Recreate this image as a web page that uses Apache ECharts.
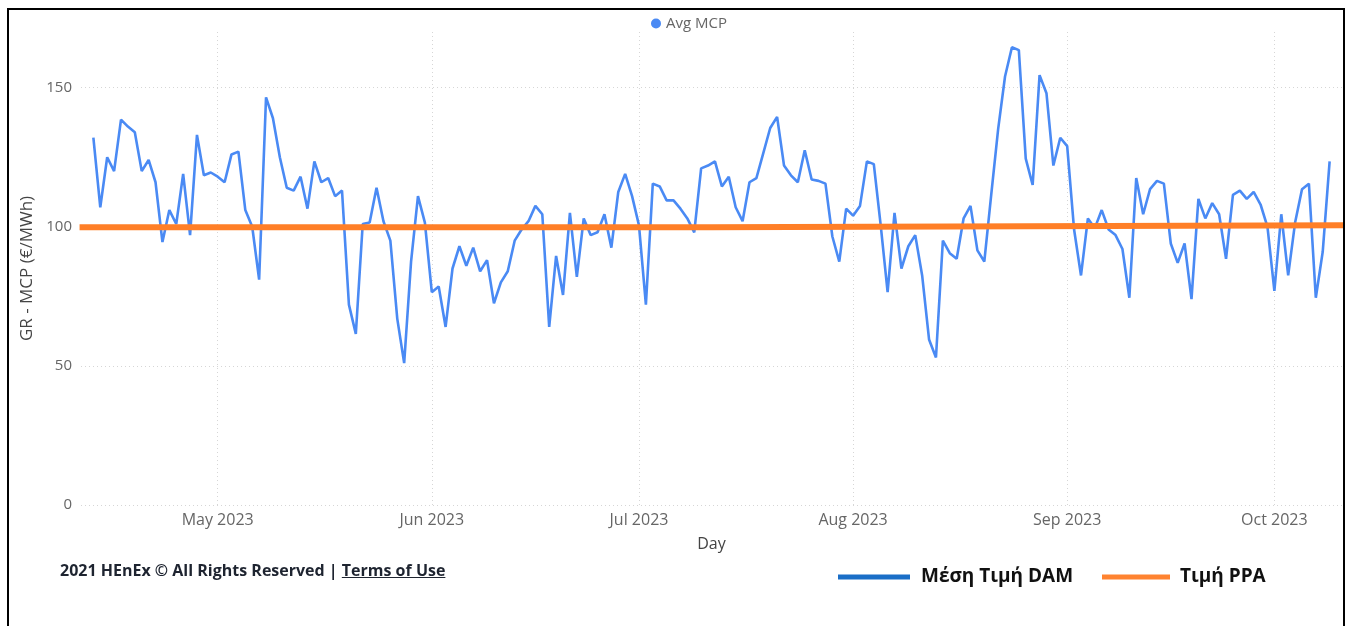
<!DOCTYPE html>
<html>
<head>
<meta charset="utf-8">
<title>GR - MCP</title>
<script src="https://cdn.jsdelivr.net/npm/echarts@6/dist/echarts.min.js"></script>
<style>
html, body { margin: 0; padding: 0; background: #fff; }
#chart { position: absolute; left: 0; top: 0; width: 1349px; height: 626px; }
#frame { position: absolute; left: 7px; top: 8px; width: 1334px; height: 700px; border: 2px solid #000; border-bottom: none; pointer-events: none; }
#footer { position: absolute; left: 60px; top: 559px; font: bold 16px 'Open Sans', sans-serif; line-height: 22px; color: #1e2430; white-space: nowrap; }
#footer span { text-decoration: underline; }
</style>
</head>
<body>
<div id="chart"></div>
<div id="frame"></div>
<div id="footer">2021 HEnEx © All Rights Reserved | <span>Terms of Use</span></div>
<script>
// daily average MCP, one value per day from 13 Apr 2023 to 9 Oct 2023
const startDay = [2023, 3, 13];
const avgMcp = [
  132, 107, 125, 120, 138.5, 136, 134, 120, 124, 116, 94.5, 106, 101, 119, 97, 133,
  118.5, 119.5, 118, 116, 126, 127, 106, 100, 81, 146.5, 139, 125, 114, 113, 118, 106.5,
  123.5, 116, 117.5, 111, 113, 72, 61.5, 101, 101.5, 114, 102, 95, 67, 51, 87.5, 111,
  101.5, 76.5, 78.5, 64, 85, 93, 86, 92.5, 84, 88, 72.5, 80, 84, 95, 99, 102,
  107.5, 104.5, 64, 89.5, 75.5, 105, 82, 103, 97, 98, 104.5, 92.5, 112.5, 119, 111, 100.5,
  72, 115.5, 114.5, 109.5, 109.5, 106.5, 103, 98, 121, 122, 123.5, 114.5, 118, 107, 102, 116,
  117.5, 126.5, 135.5, 139.5, 122, 118.5, 116, 127.5, 117, 116.5, 115.5, 96.5, 87.5, 106.5, 104, 107.5,
  123.5, 122.5, 100.5, 76.5, 105, 85, 93, 97, 82.5, 59.5, 53, 95, 90.5, 88.5, 103, 107.5,
  91.5, 87.5, 111.5, 135, 154, 164.5, 163.5, 124.5, 115, 154.5, 148, 122, 132, 129, 99, 82.5,
  103, 99.5, 106, 99, 97, 92, 74.5, 117.5, 104.5, 113.5, 116.5, 115.5, 94, 87, 94, 74,
  110, 103, 108.5, 104.5, 88.5, 111.5, 113, 110, 112.5, 108, 100, 77, 104.5, 82.5, 101.5, 113.5,
  115.5, 74.5, 91, 123.5
];

// PPA price (steps up slightly around 11 Jul)
const ppaDates = [[2023, 3, 11, 0], [2023, 6, 11, 12], [2023, 6, 11, 12], [2023, 9, 11, 0]];
const ppaValues = [99.8, 99.8, 100.5, 100.5];

const legendNames = ['Μέση Τιμή DAM', 'Τιμή PPA'];

const DAY = 864e5;
const t0 = new Date(startDay[0], startDay[1], startDay[2]).getTime();
const mcpData = avgMcp.map((v, i) => [t0 + i * DAY, v]);
const ppaData = ppaValues.map((v, i) => {
  const d = ppaDates[i];
  return [new Date(d[0], d[1], d[2], d[3]).getTime(), v];
});

const font = "'Open Sans', 'Segoe UI', sans-serif";
const gridLine = { color: '#d6d6d6', width: 1, type: [1, 3] };

const chart = echarts.init(document.getElementById('chart'));

chart.setOption({
  animation: false,
  textStyle: { fontFamily: font },
  grid: { left: 81, right: 7, top: 32, bottom: 121, containLabel: false },
  legend: {
    data: ['Avg MCP'],
    left: 646,
    top: 11,
    icon: 'circle',
    itemWidth: 10,
    itemHeight: 10,
    textStyle: { color: '#666', fontSize: 15, fontFamily: font }
  },
  xAxis: {
    type: 'time',
    min: new Date(2023, 3, 11, 5).getTime(),
    max: new Date(2023, 9, 10, 19).getTime(),
    splitNumber: 6,
    minInterval: 28 * DAY,
    maxInterval: 31 * DAY,
    name: 'Day',
    nameLocation: 'middle',
    nameGap: 31,
    nameTextStyle: { color: '#444', fontSize: 16, fontFamily: font },
    axisLine: { show: false },
    axisTick: { show: false },
    axisLabel: {
      formatter: '{MMM} {yyyy}',
      color: '#666',
      fontSize: 16,
      margin: 7,
      showMinLabel: false,
      showMaxLabel: false
    },
    splitLine: { show: true, showMinLine: false, showMaxLine: false, lineStyle: gridLine }
  },
  yAxis: {
    type: 'value',
    min: 0,
    max: 170,
    interval: 50,
    name: 'GR - MCP (€/MWh)',
    nameLocation: 'middle',
    nameGap: 43,
    nameTextStyle: { color: '#444', fontSize: 17, fontFamily: font },
    axisLine: { show: false },
    axisTick: { show: false },
    axisLabel: { color: '#666', fontSize: 15, margin: 9, showMaxLabel: false },
    splitLine: { show: true, showMaxLine: false, lineStyle: gridLine }
  },
  series: [
    {
      name: 'Avg MCP',
      type: 'line',
      data: mcpData,
      showSymbol: false,
      symbol: 'circle',
      lineStyle: { color: '#4a8af4', width: 2.6 },
      itemStyle: { color: '#4a8af4' },
      z: 2
    },
    {
      name: 'PPA',
      type: 'line',
      data: ppaData,
      showSymbol: false,
      lineStyle: { color: '#ff7f27', width: 6 },
      itemStyle: { color: '#ff7f27' },
      z: 3
    }
  ],
  graphic: [
    { type: 'line', shape: { x1: 838, y1: 577, x2: 910, y2: 577 }, style: { stroke: '#1a6ec7', lineWidth: 5 } },
    { type: 'text', x: 921, y: 577, style: { text: legendNames[0], font: 'bold 19px ' + font, fill: '#111', verticalAlign: 'middle' } },
    { type: 'line', shape: { x1: 1102, y1: 577, x2: 1170, y2: 577 }, style: { stroke: '#ff8330', lineWidth: 5 } },
    { type: 'text', x: 1180, y: 577, style: { text: legendNames[1], font: 'bold 19px ' + font, fill: '#111', verticalAlign: 'middle' } }
  ]
});
</script>
</body>
</html>
